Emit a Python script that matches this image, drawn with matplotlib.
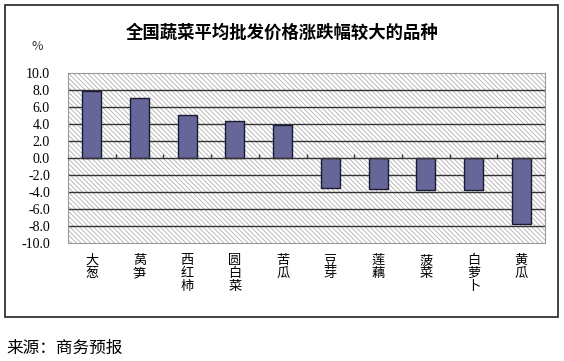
import matplotlib
matplotlib.use("Agg")
import matplotlib.pyplot as plt
from matplotlib.patches import Rectangle
import numpy as np

categories = ["大葱", "莴笋", "西红柿", "圆白菜", "苦瓜", "豆芽", "莲藕", "菠菜", "白萝卜", "黄瓜"]
values = [7.9, 7.1, 5.1, 4.4, 3.9, -3.5, -3.6, -3.8, -3.8, -7.8]
yticks = [10, 8, 6, 4, 2, 0, -2, -4, -6, -8, -10]
title = "全国蔬菜平均批发价格涨跌幅较大的品种"
unit = "%"
source = "来源：商务预报"

plt.rcParams['font.family'] = ['Noto Sans CJK SC', 'DejaVu Sans']
plt.rcParams['hatch.color'] = '#b0b0b0'
plt.rcParams['hatch.linewidth'] = 0.6

W, H = 564, 361
fig = plt.figure(figsize=(W / 100, H / 100), dpi=100)

# outer frame
fig.patches.append(Rectangle((5 / W, 1 - 317 / H), 553 / W, 312 / H, transform=fig.transFigure,
                             fill=False, edgecolor='#222222', linewidth=1.2))

ax = fig.add_axes([68 / W, 1 - 243 / H, 477 / W, 170 / H])
ax.set_xlim(-0.5, len(categories) - 0.5)
ax.set_ylim(-10, 10)

# hatched background
ax.add_patch(Rectangle((0, 0), 1, 1, transform=ax.transAxes, facecolor='white',
                       hatch='\\\\\\\\\\\\\\', edgecolor='#b0b0b0', linewidth=0, zorder=0))
ax.set_facecolor('white')

for yv in yticks:
    if yv not in (10, -10, 0):
        ax.axhline(yv, color='#333333', linewidth=1.0, zorder=1)

x = np.arange(len(categories))
ax.bar(x, values, width=0.4, color='#666699', edgecolor='#1a1a33', linewidth=1.0, zorder=3)

for s in ['top', 'left', 'right']:
    ax.spines[s].set_color('#999999')
    ax.spines[s].set_linewidth(0.8)
ax.spines['bottom'].set_position(('data', 0))
ax.spines['bottom'].set_color('#333333')
ax.spines['bottom'].set_linewidth(1.0)
ax.spines['bottom'].set_zorder(4)

ax.set_xticks(np.arange(len(categories)) + 0.5)
ax.set_xticklabels([])
ax.tick_params(axis='x', direction='in', length=3, width=1, color='#333333')

ax.set_yticks(yticks)
ax.set_yticklabels([f"{v:.1f}" for v in yticks], family='Liberation Serif', fontsize=10)
ax.tick_params(axis='y', length=0, pad=13)

sec = ax.secondary_xaxis(0.0)
sec.set_xticks(x)
sec.set_xticklabels(["\n".join(c) for c in categories], fontsize=9.5, linespacing=1.0, va='top')
sec.tick_params(length=0, pad=8)
sec.spines['bottom'].set_color('#999999')
sec.spines['bottom'].set_linewidth(0.8)

fig.text(282 / W, 1 - 33 / H, title, ha='center', va='center', fontsize=12.5, fontweight='bold')
fig.text(37 / W, 1 - 47 / H, unit, ha='center', va='center', fontsize=9, color='#333333')
fig.text(6 / W, 1 - 348 / H, source, ha='left', va='center', fontsize=12)

fig.savefig("out.png", dpi=100)
